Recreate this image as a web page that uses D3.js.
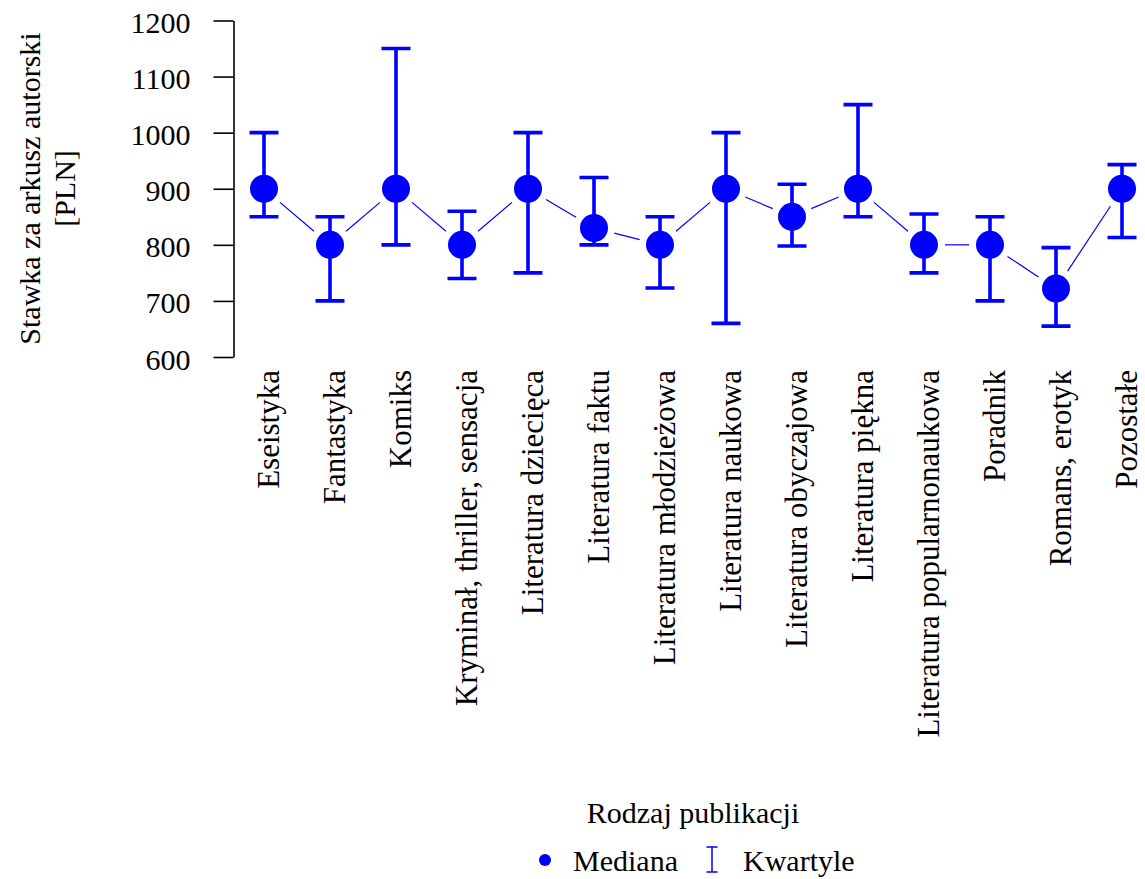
<!DOCTYPE html>
<html>
<head>
<meta charset="utf-8">
<script src="https://cdn.jsdelivr.net/npm/d3@7"></script>
<style>
  html, body { margin: 0; padding: 0; background: #fff; }
  svg { display: block; }
  text { font-family: "Liberation Serif", "Times New Roman", serif; fill: #000; }
</style>
</head>
<body>
<svg id="chart" width="1145" height="879"></svg>
<script>
// Publication types
const categories = [
  "Eseistyka", "Fantastyka", "Komiks", "Kryminał, thriller, sensacja",
  "Literatura dziecięca", "Literatura faktu", "Literatura młodzieżowa",
  "Literatura naukowa", "Literatura obyczajowa", "Literatura piękna",
  "Literatura popularnonaukowa", "Poradnik", "Romans, erotyk", "Pozostałe"
];
// Median rate per author's sheet [PLN]
const medians = [900, 800, 900, 800, 900, 830, 800, 900, 850, 900, 800, 800, 722, 900];
// Lower and upper quartiles [PLN]
const q1 = [850, 700, 800, 740, 750, 800, 723, 660, 798, 850, 750, 700, 655, 813];
const q3 = [1000, 850, 1150, 860, 1000, 920, 850, 1000, 908, 1050, 855, 850, 795, 943];
const yTicks = [600, 700, 800, 900, 1000, 1100, 1200];

const data = categories.map((c, i) => ({ cat: c, med: medians[i], lo: q1[i], hi: q3[i] }));

const svg = d3.select("#chart");
const blue = "#0000ff";

const x = d3.scalePoint().domain(categories).range([264, 1122]);
const y = d3.scaleLinear().domain([600, 1200]).range([357, 20.5]);

// Y axis
const yAxis = svg.append("g")
  .attr("transform", "translate(233.5,0)")
  .call(d3.axisLeft(y).tickValues(yTicks).tickFormat(d3.format("d"))
    .tickSize(20).tickSizeOuter(0).tickPadding(23));
yAxis.attr("font-family", null);
yAxis.select(".domain").attr("stroke", "#000").attr("stroke-width", 1.6);
yAxis.selectAll(".tick line").attr("stroke", "#000").attr("stroke-width", 1.6);
yAxis.selectAll(".tick text")
  .attr("font-size", 30)
  .attr("dy", "0.4em")
  .attr("fill", "#000");

// Category labels, rotated
svg.append("g").selectAll("text")
  .data(categories)
  .join("text")
  .attr("transform", d => `translate(${x(d) + 15},370) rotate(-90)`)
  .attr("text-anchor", "end")
  .attr("font-size", 31)
  .text(d => d);

// Connecting line segments with gaps around the points
const gap = 21;
const segs = [];
for (let i = 0; i < data.length - 1; i++) {
  const x0 = x(data[i].cat), y0 = y(data[i].med);
  const x1 = x(data[i + 1].cat), y1 = y(data[i + 1].med);
  const dx = x1 - x0, dy = y1 - y0, len = Math.hypot(dx, dy);
  const ux = dx / len, uy = dy / len;
  segs.push({ x0: x0 + ux * gap, y0: y0 + uy * gap, x1: x1 - ux * gap, y1: y1 - uy * gap });
}
svg.append("g").selectAll("line")
  .data(segs)
  .join("line")
  .attr("x1", d => d.x0).attr("y1", d => d.y0)
  .attr("x2", d => d.x1).attr("y2", d => d.y1)
  .attr("stroke", blue)
  .attr("stroke-width", 1.2);

// Quartile error bars
const capHalf = 14.5;
const bars = svg.append("g").attr("stroke", blue).attr("stroke-width", 3.6).attr("fill", "none");
bars.selectAll("path")
  .data(data)
  .join("path")
  .attr("d", d => {
    const cx = x(d.cat), yl = y(d.lo), yh = y(d.hi);
    return `M${cx},${yl}V${yh}M${cx - capHalf},${yh}H${cx + capHalf}M${cx - capHalf},${yl}H${cx + capHalf}`;
  });

// Median points
svg.append("g").selectAll("circle")
  .data(data)
  .join("circle")
  .attr("cx", d => x(d.cat))
  .attr("cy", d => y(d.med))
  .attr("r", 14)
  .attr("fill", blue);

// Y axis title
const yTitle = svg.append("text")
  .attr("transform", "translate(40,188.5) rotate(-90)")
  .attr("text-anchor", "middle")
  .attr("font-size", 30);
yTitle.append("tspan").attr("x", 0).attr("dy", 0).text("Stawka za arkusz autorski");
yTitle.append("tspan").attr("x", 0).attr("dy", 35).text("[PLN]");

// X axis title
svg.append("text")
  .attr("x", 693)
  .attr("y", 823)
  .attr("text-anchor", "middle")
  .attr("font-size", 30)
  .text("Rodzaj publikacji");

// Legend
const leg = svg.append("g");
leg.append("circle").attr("cx", 545).attr("cy", 860).attr("r", 6).attr("fill", blue);
leg.append("text").attr("x", 573).attr("y", 871).attr("font-size", 30).text("Mediana");
leg.append("path")
  .attr("d", "M712,847V872M706.5,847H717.5M706.5,872H717.5")
  .attr("stroke", blue).attr("stroke-width", 1.5).attr("fill", "none");
leg.append("text").attr("x", 743).attr("y", 871).attr("font-size", 30).text("Kwartyle");
</script>
</body>
</html>
